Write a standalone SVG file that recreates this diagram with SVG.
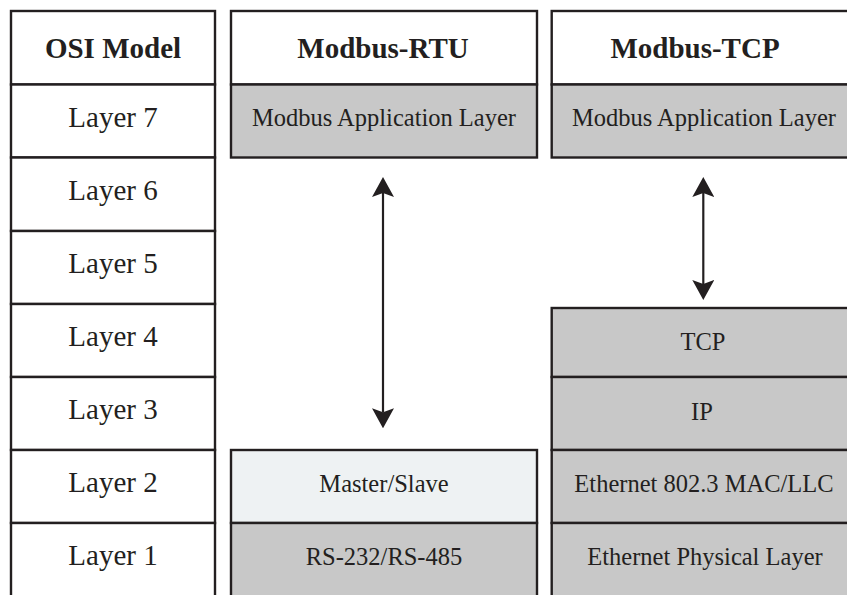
<svg xmlns="http://www.w3.org/2000/svg" width="847" height="595" viewBox="0 0 847 595">
  <defs>
    <style>
      .box { stroke: #231f20; stroke-width: 2.4; }
      .white { fill: #ffffff; }
      .grey { fill: #c8c8c8; }
      .pale { fill: #eef2f3; }
      text { font-family: "Liberation Serif", "Times New Roman", serif; fill: #231f20; text-anchor: middle; }
      .head { font-size: 29px; font-weight: bold; }
      .layer { font-size: 29px; }
      .lbl { font-size: 24.5px; }
      .conn { stroke: #231f20; stroke-width: 2.2; fill: none; }
    </style>
    <marker id="arrow" viewBox="0 0 20 22" markerWidth="20" markerHeight="22" refX="4" refY="11" markerUnits="userSpaceOnUse" orient="auto-start-reverse">
      <path d="M0,0 L20,11 L0,22 L4,11 Z" fill="#231f20"/>
    </marker>
  </defs>

  <rect x="0" y="0" width="847" height="595" fill="#ffffff"/>

  <!-- OSI reference column -->
  <g id="osi-header"><rect class="box white" x="11" y="11" width="204" height="73.5"/><text class="head" x="113" y="57.5">OSI Model</text></g>
  <g id="osi-layer7"><rect class="box white" x="11" y="84.5" width="204" height="73"/><text class="layer" x="113" y="126.5">Layer 7</text></g>
  <g id="osi-layer6"><rect class="box white" x="11" y="157.5" width="204" height="73.5"/><text class="layer" x="113" y="199.5">Layer 6</text></g>
  <g id="osi-layer5"><rect class="box white" x="11" y="231" width="204" height="73"/><text class="layer" x="113" y="272.5">Layer 5</text></g>
  <g id="osi-layer4"><rect class="box white" x="11" y="304" width="204" height="73"/><text class="layer" x="113" y="345.5">Layer 4</text></g>
  <g id="osi-layer3"><rect class="box white" x="11" y="377" width="204" height="73"/><text class="layer" x="113" y="418.5">Layer 3</text></g>
  <g id="osi-layer2"><rect class="box white" x="11" y="450" width="204" height="73"/><text class="layer" x="113" y="491.5">Layer 2</text></g>
  <g id="osi-layer1"><rect class="box white" x="11" y="523" width="204" height="80"/><text class="layer" x="113" y="564.5">Layer 1</text></g>

  <!-- Modbus-RTU stack -->
  <g id="rtu-header"><rect class="box white" x="231" y="11" width="306" height="73.5"/><text class="head" x="383" y="57.5">Modbus-RTU</text></g>
  <g id="rtu-app"><rect class="box grey" x="231" y="84.5" width="306" height="73"/><text class="lbl" x="384" y="126">Modbus Application Layer</text></g>
  <g id="rtu-master-slave"><rect class="box pale" x="231" y="450" width="306" height="73"/><text class="lbl" x="384" y="491.5">Master/Slave</text></g>
  <g id="rtu-physical"><rect class="box grey" x="231" y="523" width="306" height="80"/><text class="lbl" x="384" y="564.5">RS-232/RS-485</text></g>

  <!-- Modbus-TCP stack -->
  <g id="tcp-header"><rect class="box white" x="551.7" y="11" width="310" height="73.5"/><text class="head" x="695" y="57.5">Modbus-TCP</text></g>
  <g id="tcp-app"><rect class="box grey" x="551.7" y="84.5" width="310" height="73"/><text class="lbl" x="704" y="126">Modbus Application Layer</text></g>
  <g id="tcp-transport"><rect class="box grey" x="551.7" y="308" width="310" height="69"/><text class="lbl" x="703" y="350">TCP</text></g>
  <g id="tcp-network"><rect class="box grey" x="551.7" y="377" width="310" height="73"/><text class="lbl" x="702" y="419.5">IP</text></g>
  <g id="tcp-datalink"><rect class="box grey" x="551.7" y="450" width="310" height="73"/><text class="lbl" x="704" y="491.5">Ethernet 802.3 MAC/LLC</text></g>
  <g id="tcp-physical"><rect class="box grey" x="551.7" y="523" width="310" height="80"/><text class="lbl" x="705" y="564.5">Ethernet Physical Layer</text></g>

  <!-- Connectors -->
  <g id="connectors">
    <line class="conn" x1="383" y1="193" x2="383" y2="412.3" marker-start="url(#arrow)" marker-end="url(#arrow)"/>
    <line class="conn" x1="703.3" y1="193" x2="703.3" y2="284" marker-start="url(#arrow)" marker-end="url(#arrow)"/>
  </g>
</svg>
